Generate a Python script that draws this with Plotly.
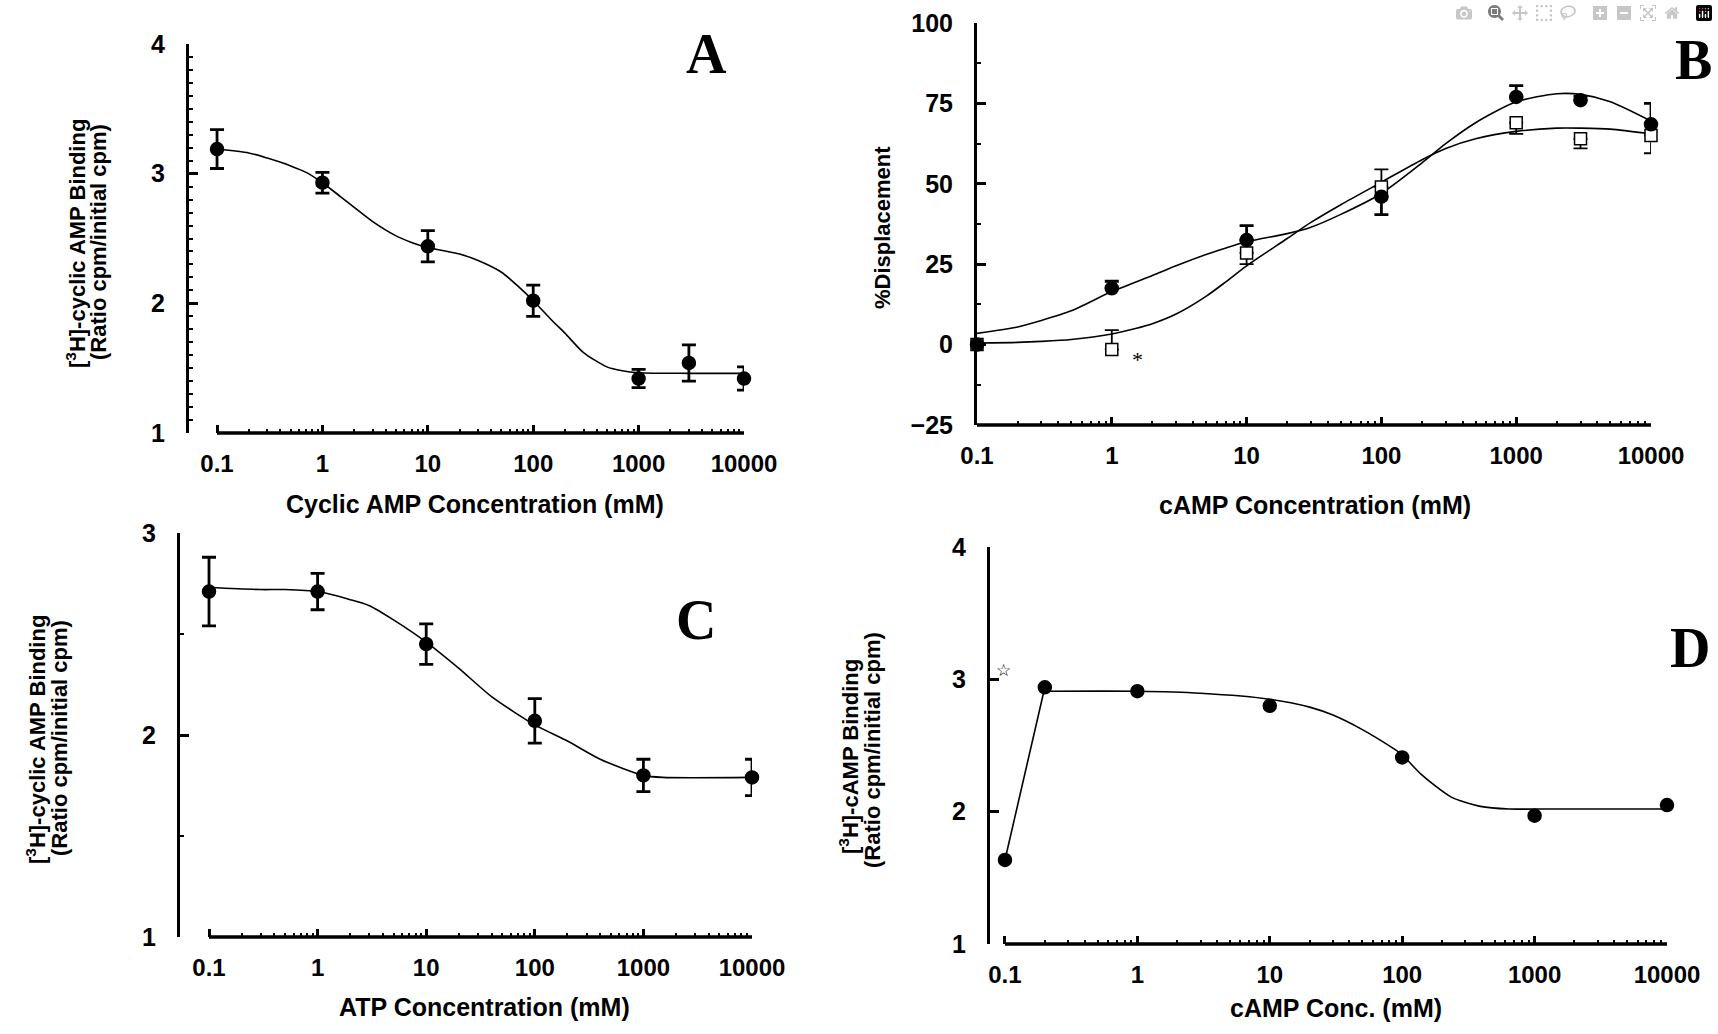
import math
import plotly.graph_objects as go

W, H = 1718, 1034

# ---------------- data ----------------
# Panel A: cyclic AMP
a_x = [0.1, 1, 10, 100, 1000, 3000, 10000]
a_y = [3.19, 2.93, 2.44, 2.02, 1.42, 1.54, 1.42]
a_err = [0.15, 0.08, 0.12, 0.12, 0.07, 0.14, 0.09]
a_fit_x = [0.1, 0.2, 0.3, 0.5, 0.7, 1, 1.5, 2, 3, 5, 7, 10, 20, 30, 50, 70, 100, 150, 200, 300, 500, 700, 1000, 3000, 10000]
a_fit_y = [3.19, 3.16, 3.12, 3.06, 3.01, 2.93, 2.82, 2.74, 2.63, 2.52, 2.47, 2.43, 2.38, 2.33, 2.24, 2.14, 2.02, 1.87, 1.77, 1.62, 1.51, 1.48, 1.465, 1.46, 1.46]

# Panel B: % displacement
b_x = [0.1, 1, 10, 100, 1000, 3000, 10000]
b_circ_y = [0, 17.5, 32.5, 46, 77, 76, 68.5]
b_circ_up = [0, 2.2, 4.5, 0, 3.5, 1.2, 6.5]
b_circ_dn = [0, 0, 0, 5.6, 0, 0, 0]
b_sq_y = [0, -1.5, 28.5, 49, 69, 64, 65]
b_sq_up = [0, 6, 0, 5.5, 0, 0, 0]
b_sq_dn = [0, 0, 3.5, 0, 3.5, 3, 5.5]
b_circ_fit_x = [0.1, 0.2, 0.3, 0.5, 1, 2, 3, 5, 10, 20, 30, 50, 100, 200, 300, 500, 1000, 2000, 3000, 5000, 10000]
b_circ_fit = [3.5, 5.5, 7.5, 10.5, 16.5, 21.5, 24.5, 28, 32, 34.5, 36.5, 40.5, 47, 56.5, 62.5, 69, 75.5, 78, 77.8, 75.5, 69.5]
b_sq_fit_x = [0.1, 0.2, 0.3, 0.5, 1, 1.5, 2, 3, 5, 7, 10, 20, 30, 50, 100, 200, 300, 500, 1000, 2000, 3000, 5000, 10000]
b_sq_fit = [0.5, 0.7, 1.0, 1.6, 3.3, 5, 6.5, 9.5, 15, 19.5, 24.5, 33, 38, 43.5, 50.5, 57.5, 61, 64, 66.3, 67.3, 67.3, 67, 65.5]

# Panel C: ATP
c_x = [0.1, 1, 10, 100, 1000, 10000]
c_y = [2.71, 2.71, 2.45, 2.07, 1.80, 1.79]
c_err = [0.17, 0.09, 0.10, 0.11, 0.08, 0.09]
c_fit_x = [0.1, 0.3, 0.5, 1, 2, 3, 5, 10, 20, 40, 100, 200, 400, 1000, 1500, 10000]
c_fit_y = [2.73, 2.72, 2.72, 2.71, 2.67, 2.64, 2.57, 2.46, 2.33, 2.19, 2.05, 1.97, 1.88, 1.80, 1.79, 1.79]

# Panel D: cAMP conc.
d_x = [0.1, 0.2, 1, 10, 100, 1000, 10000]
d_y = [1.635, 2.94, 2.91, 2.80, 2.41, 1.97, 2.05]
d_fit_x = [0.2, 1, 3, 10, 20, 30, 50, 85, 100, 140, 235, 390, 640, 1000, 10000]
d_fit_y = [2.91, 2.91, 2.895, 2.85, 2.79, 2.73, 2.62, 2.48, 2.43, 2.28, 2.11, 2.04, 2.02, 2.02, 2.02]

major_x = [0.1, 1, 10, 100, 1000, 10000]
major_x_text = ["0.1", "1", "10", "100", "1000", "10000"]
minor_x = [m * 10 ** e for e in range(-1, 4) for m in range(2, 10)]

FONT = "Liberation Sans, Arial, sans-serif"
SERIF = "Liberation Serif, Times New Roman, serif"

# ---------------- layout geometry (pixels) ----------------
panels = {
    "A": dict(l=189, r=744, t=44, b=433, xl=-1.266, yr=[1, 4], yt=[1, 2, 3, 4], ym=0.1),
    "B": dict(l=977, r=1651, t=23, b=425, xl=-1.0, yr=[-25, 100], yt=[-25, 0, 25, 50, 75, 100], ym=12.5),
    "C": dict(l=180, r=752, t=533, b=937, xl=-1.267, yr=[1, 3], yt=[1, 2, 3], ym=0.5),
    "D": dict(l=990, r=1667, t=547, b=944, xl=-1.113, yr=[1, 4], yt=[1, 2, 3, 4], ym=None),
}

fig = go.Figure()
layout = dict(
    width=W, height=H, margin=dict(l=0, r=0, t=0, b=0, pad=0, autoexpand=False),
    paper_bgcolor="white", plot_bgcolor="white", showlegend=False,
)
shapes = []
annotations = []

for i, (name, p) in enumerate(panels.items()):
    sfx = "" if i == 0 else str(i + 1)
    xdom = [p["l"] / W, p["r"] / W]
    ydom = [1 - p["b"] / H, 1 - p["t"] / H]
    layout["xaxis" + sfx] = dict(
        type="log", range=[p["xl"], 4.0], domain=xdom, anchor="y" + sfx,
        showline=False, showgrid=False, zeroline=False,
        ticks="inside", ticklen=8, tickwidth=3, tickcolor="black",
        tickvals=major_x, ticktext=major_x_text,
        tickfont=dict(family=FONT, size=24, color="black", weight="bold"),
        ticklabelstandoff=14,
        minor=dict(ticks="inside", ticklen=4, tickwidth=2, tickcolor="black",
                   tickmode="array", tickvals=minor_x, showgrid=False),
    )
    ydict = dict(
        range=p["yr"], domain=ydom, anchor="x" + sfx,
        showline=True, linewidth=3, linecolor="black",
        showgrid=False, zeroline=False,
        ticks="inside", ticklen=9, tickwidth=3, tickcolor="black",
        tickvals=p["yt"],
        tickfont=dict(family=FONT, size=25, color="black", weight="bold"),
        ticklabelstandoff=16,
    )
    if p["ym"]:
        ydict["minor"] = dict(ticks="inside", ticklen=4, tickwidth=2, tickcolor="black",
                              dtick=p["ym"], showgrid=False)
    layout["yaxis" + sfx] = ydict
    x0f = (math.log10(0.1) - p["xl"]) / (4.0 - p["xl"])
    shapes.append(dict(type="line", xref="x" + sfx + " domain", yref="y" + sfx + " domain",
                       x0=x0f, x1=1.0, y0=0, y1=0, line=dict(color="black", width=3.5)))

xa = dict(A=("x", "y"), B=("x2", "y2"), C=("x3", "y3"), D=("x4", "y4"))

def fit_line(x, y, panel):
    fig.add_trace(go.Scatter(x=x, y=y, mode="lines", xaxis=xa[panel][0], yaxis=xa[panel][1],
                             line=dict(color="black", width=1.6, shape="spline", smoothing=0.7),
                             hoverinfo="skip", cliponaxis=False))

def points(x, y, panel, up=None, dn=None, symbol="circle", color="black", size=13, thick=2.8):
    kw = {}
    if up is not None:
        kw["error_y"] = dict(type="data", array=up, arrayminus=dn if dn is not None else up,
                             symmetric=dn is None, thickness=thick, width=7, color="black")
    fig.add_trace(go.Scatter(x=x, y=y, mode="markers", xaxis=xa[panel][0], yaxis=xa[panel][1],
                             marker=dict(symbol=symbol, size=size, color=color,
                                         line=dict(color="black", width=1.5)),
                             cliponaxis=False, **kw))

fit_line(a_fit_x, a_fit_y, "A")
points(a_x, a_y, "A", up=a_err)
fit_line(b_circ_fit_x, b_circ_fit, "B")
fit_line(b_sq_fit_x, b_sq_fit, "B")
points(b_x, b_sq_y, "B", up=b_sq_up, dn=b_sq_dn, symbol="square", color="white", size=12, thick=1.8)
points(b_x, b_circ_y, "B", up=b_circ_up, dn=b_circ_dn)
fit_line(c_fit_x, c_fit_y, "C")
points(c_x, c_y, "C", up=c_err)
fig.add_trace(go.Scatter(x=d_x[:2], y=d_y[:2], mode="lines", xaxis="x4", yaxis="y4",
                         line=dict(color="black", width=1.6), hoverinfo="skip"))
fit_line(d_fit_x, d_fit_y, "D")
points(d_x, d_y, "D")

def ptxt(text, x, y, size=24, angle=0, family=FONT, bold=True):
    annotations.append(dict(text=text, x=x / W, y=1 - y / H, xref="paper", yref="paper",
                            showarrow=False, textangle=angle, xanchor="center", yanchor="middle",
                            font=dict(family=family, size=size, color="black",
                                      weight="bold" if bold else "normal")))

ptxt("Cyclic AMP Concentration (mM)", 475, 504, size=25)
ptxt("cAMP Concentration (mM)", 1315, 505, size=25)
ptxt("ATP Concentration (mM)", 484, 1007, size=25)
ptxt("cAMP Conc. (mM)", 1336, 1008, size=25)

ptxt("[<sup>3</sup>H]-cyclic AMP Binding", 76, 244, size=22, angle=-90)
ptxt("(Ratio cpm/initial cpm)", 98, 242, size=22, angle=-90)
ptxt("%Displacement", 882, 228, size=22, angle=-90)
ptxt("[<sup>3</sup>H]-cyclic AMP Binding", 36, 740, size=22, angle=-90)
ptxt("(Ratio cpm/initial cpm)", 59, 738, size=22, angle=-90)
ptxt("[<sup>3</sup>H]-cAMP Binding", 849, 757, size=22, angle=-90)
ptxt("(Ratio cpm/initial cpm)", 872, 750, size=22, angle=-90)

ptxt("A", 706, 54, size=56, family=SERIF)
ptxt("B", 1693, 60, size=56, family=SERIF)
ptxt("C", 696, 620, size=56, family=SERIF)
ptxt("D", 1690, 648, size=56, family=SERIF)

annotations.append(dict(text="*", x=math.log10(1.55), y=-4.5, xref="x2", yref="y2", showarrow=False,
                        font=dict(family=SERIF, size=22, color="black")))
annotations.append(dict(text="☆", x=math.log10(0.098), y=3.07, xref="x4", yref="y4", showarrow=False,
                        font=dict(family="DejaVu Sans", size=17, color="black", weight="bold")))

layout["shapes"] = shapes
layout["annotations"] = annotations
fig.update_layout(**layout)

fig.write_html("out.html", post_script="document.body.style.margin='0';document.body.style.overflow='hidden';")
